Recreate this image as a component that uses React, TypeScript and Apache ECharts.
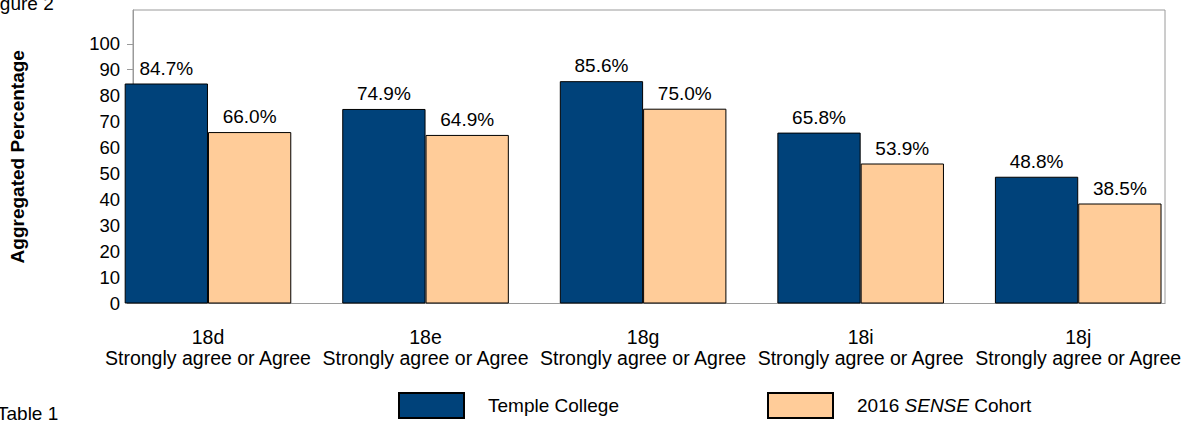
import React, { useEffect, useRef } from "react";
import * as echarts from "echarts";

const codes = ["18d", "18e", "18g", "18i", "18j"];
const responseLabel = "Strongly agree or Agree";
const templeCollege = [84.7, 74.9, 85.6, 65.8, 48.8];
const senseCohort = [66.0, 64.9, 75.0, 53.9, 38.5];
const yTicks = [0, 10, 20, 30, 40, 50, 60, 70, 80, 90, 100];
const seriesNames = ["Temple College", "2016 SENSE Cohort"];

const FONT = "'Liberation Sans', Arial, sans-serif";
const NAVY = "#00427A";
const PEACH = "#FFCC99";
const AXIS_GRAY = "#9a9a9a";

export default function App() {
  const ref = useRef<HTMLDivElement>(null);
  useEffect(() => {
    if (!ref.current) return;
    const chart = echarts.init(ref.current, null, { renderer: "svg" });
    const categories = codes.map((c) => `${c}\n${responseLabel}`);
    const yMax = 113;
    const labelCfg = {
      show: true,
      position: "top",
      distance: 6,
      fontSize: 19,
      fontFamily: FONT,
      color: "#000",
      formatter: (p: any) => `${Number(p.value).toFixed(1)}%`,
    };
    chart.setOption({
      animation: false,
      textStyle: { fontFamily: FONT },
      grid: [
        { left: 99.2, top: 10, width: 1091.5, height: 293.5, show: false },
        {
          left: 125,
          top: 10,
          width: 1040,
          height: 293.5,
          show: true,
          borderColor: AXIS_GRAY,
          borderWidth: 1,
          backgroundColor: "transparent",
        },
      ],
      xAxis: [
        {
          type: "category",
          gridIndex: 0,
          data: categories,
          axisLine: { show: false },
          axisTick: { show: false },
          axisLabel: {
            interval: 0,
            margin: 23,
            fontSize: 19.5,
            lineHeight: 21,
            color: "#000",
            fontFamily: FONT,
          },
        },
        {
          type: "category",
          gridIndex: 1,
          data: categories,
          axisLine: { show: true, lineStyle: { color: AXIS_GRAY, width: 1 } },
          axisTick: { show: false },
          axisLabel: { show: false },
        },
      ],
      yAxis: [
        {
          type: "value",
          gridIndex: 0,
          min: 0,
          max: yMax,
          interval: 10,
          show: false,
          splitLine: { show: false },
        },
        {
          type: "value",
          gridIndex: 1,
          min: 0,
          max: yMax,
          interval: 10,
          name: "Aggregated Percentage",
          nameLocation: "middle",
          nameGap: 106,
          nameTextStyle: {
            fontSize: 19,
            fontWeight: "bold",
            color: "#000",
            fontFamily: FONT,
          },
          axisLine: { show: true, lineStyle: { color: AXIS_GRAY, width: 1 } },
          axisTick: {
            show: true,
            length: 6,
            lineStyle: { color: AXIS_GRAY },
            customValues: yTicks,
          },
          axisLabel: {
            fontSize: 18.5,
            color: "#000",
            margin: 13,
            fontFamily: FONT,
            customValues: yTicks,
          },
          splitLine: { show: false },
        },
      ],
      legend: [
        {
          data: [seriesNames[0]],
          left: 398,
          top: 392,
          padding: 0,
          itemWidth: 65,
          itemHeight: 25,
          icon: "rect",
          textStyle: {
            fontSize: 19,
            color: "#000",
            fontFamily: FONT,
            padding: [0, 0, 0, 19],
          },
        },
        {
          data: [seriesNames[1]],
          left: 767,
          top: 392,
          padding: 0,
          itemWidth: 65,
          itemHeight: 25,
          icon: "rect",
          formatter: () => "2016 {i|SENSE} Cohort",
          textStyle: {
            fontSize: 19,
            color: "#000",
            fontFamily: FONT,
            padding: [0, 0, 0, 19],
            rich: {
              i: { fontStyle: "italic", fontSize: 19, color: "#000", fontFamily: FONT },
            },
          },
        },
      ],
      graphic: [
        {
          type: "text",
          left: -16,
          top: -6,
          style: { text: "Figure 2", fontSize: 19, fill: "#000", fontFamily: FONT },
        },
        {
          type: "text",
          left: -3,
          top: 404,
          style: { text: "Table 1", fontSize: 19, fill: "#000", fontFamily: FONT },
        },
      ],
      series: [
        {
          name: seriesNames[0],
          type: "bar",
          xAxisIndex: 0,
          yAxisIndex: 0,
          data: templeCollege,
          barWidth: 83.3,
          barGap: "0%",
          itemStyle: { color: NAVY, borderColor: "#000", borderWidth: 1 },
          label: labelCfg,
        },
        {
          name: seriesNames[1],
          type: "bar",
          xAxisIndex: 0,
          yAxisIndex: 0,
          data: senseCohort,
          barWidth: 83.3,
          barGap: "0%",
          itemStyle: { color: PEACH, borderColor: "#000", borderWidth: 1 },
          label: labelCfg,
        },
      ],
    });
    return () => chart.dispose();
  }, []);
  return (
    <div
      ref={ref}
      style={{ position: "absolute", left: 0, top: 0, width: 1187, height: 422 }}
    />
  );
}
